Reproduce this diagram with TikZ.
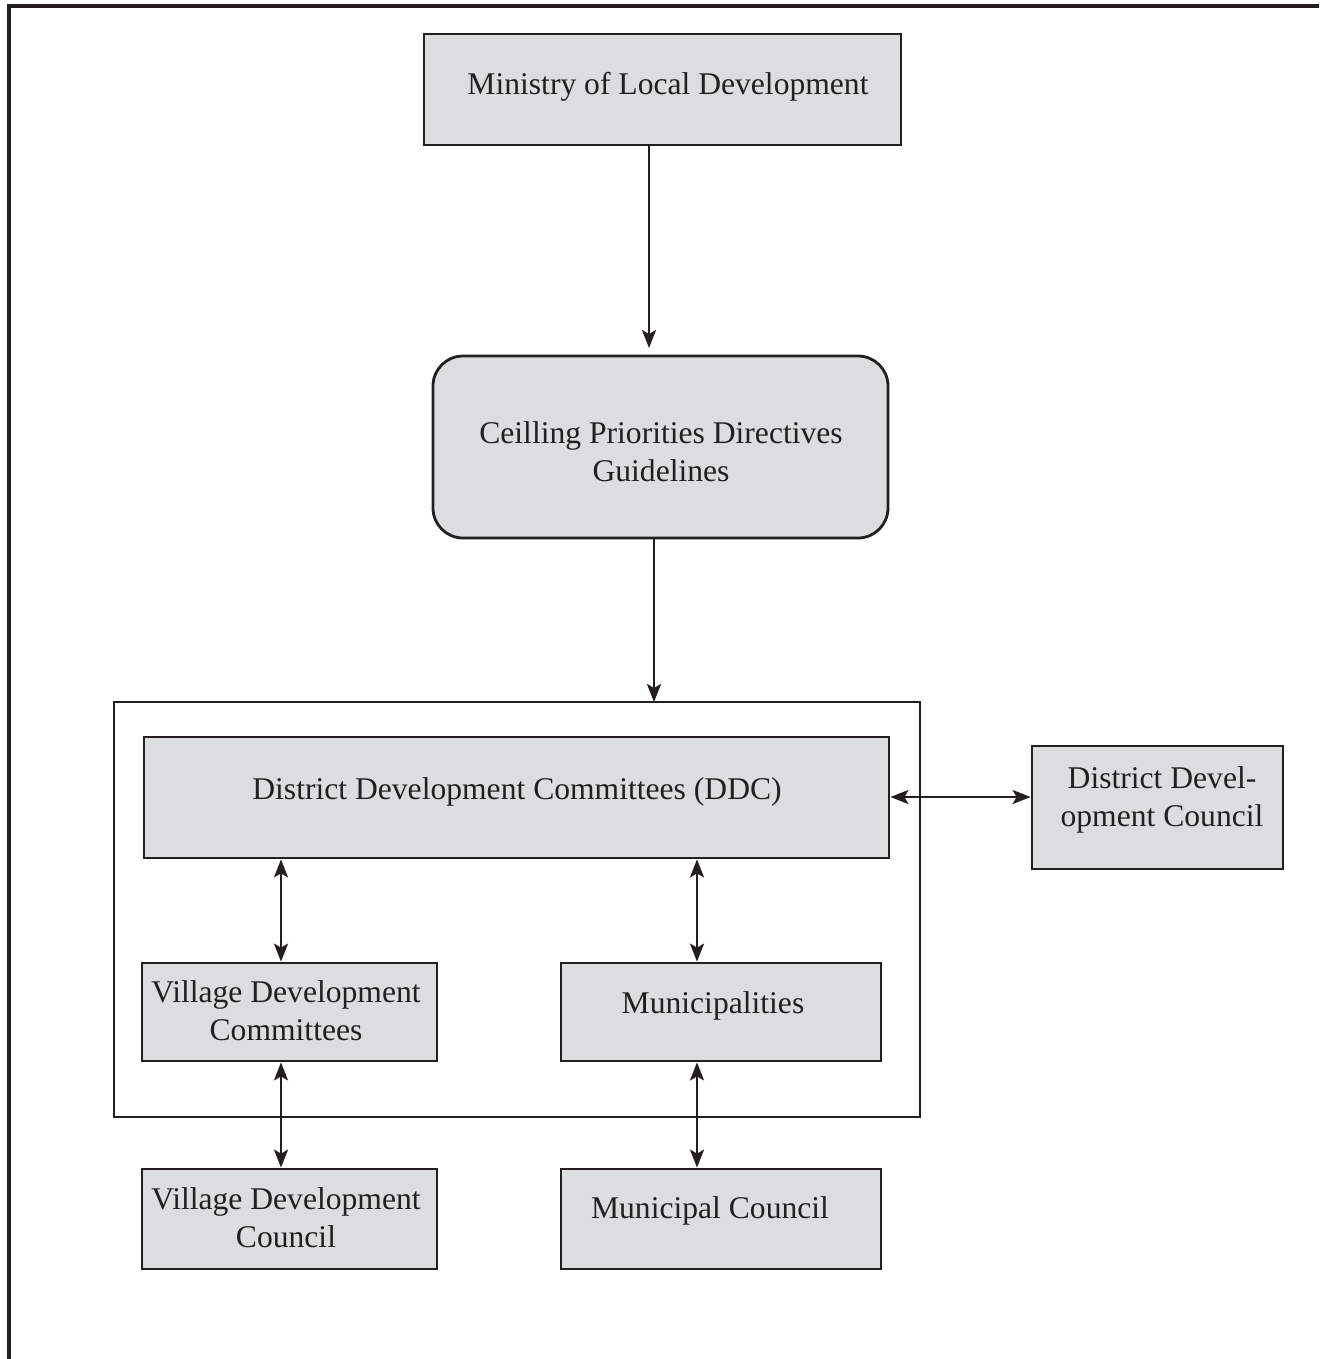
\documentclass[tikz,border=0pt]{standalone}
\usepackage{fontspec}
\setmainfont{Liberation Serif}
\usetikzlibrary{arrows.meta}
\definecolor{boxgray}{HTML}{DCDDDF}
\definecolor{ink}{HTML}{231F20}
\begin{document}
\begin{tikzpicture}[x=0.5pt,y=-0.5pt,
  box/.style={draw=ink,line width=1.4pt,fill=boxgray,inner sep=0pt},
  txt/.style={text=ink,align=center,inner sep=0pt,font=\fontsize{15.8}{19}\selectfont},
  conn/.style={draw=ink,line width=1.2pt,-{Stealth[length=9pt,width=7pt,inset=2pt]}},
  bconn/.style={draw=ink,line width=1.2pt,{Stealth[length=9pt,width=7pt,inset=2pt]}-{Stealth[length=9pt,width=7pt,inset=2pt]}}]
\useasboundingbox (0,0) rectangle (1319,1359);
% outer page frame (top and left only)
\draw[ink,line width=1.8pt] (9,1359) -- (9,6) -- (1319,6);
% boxes
\node[box,minimum width=238.5pt,minimum height=55.5pt] (mld) at (662.5,89.5) {};
\node[box,rounded corners=15pt,minimum width=227.5pt,minimum height=91pt] (cpd) at (660.5,447) {};
\draw[ink,line width=1.4pt] (114,702) rectangle (920,1117);
\coordinate (frametop) at (654,702);
\node[box,minimum width=372.5pt,minimum height=60.5pt] (ddc) at (516.5,797.5) {};
\node[box,minimum width=125.5pt,minimum height=61.5pt] (dcouncil) at (1157.5,807.5) {};
\node[box,minimum width=147.5pt,minimum height=49pt] (vdc) at (289.5,1012) {};
\node[box,minimum width=160pt,minimum height=49pt] (muni) at (721,1012) {};
\node[box,minimum width=147.5pt,minimum height=50pt] (vdcouncil) at (289.5,1219) {};
\node[box,minimum width=160pt,minimum height=50pt] (mcouncil) at (721,1219) {};
% texts
\node[txt] (tmld) at (668,87) {Ministry of Local Development};
\node[txt] (tcpd) at (661,452) {Ceilling Priorities Directives\\Guidelines};
\node[txt] (tddc) at (517,792) {District Development Committees (DDC)};
\node[txt] (tdcouncil) at (1162,800) {District Devel-\\opment Council};
\node[txt] (tvdc) at (286,1011) {Village Development\\Committees};
\node[txt] (tmuni) at (713,1006) {Municipalities};
\node[txt] (tvdcouncil) at (286,1218) {Village Development\\Council};
\node[txt] (tmcouncil) at (710,1211) {Municipal Council};
% connectors
\draw[conn] (mld.south -| 649,0) -- (649,348);
\draw[conn] (cpd.south -| 654,0) -- (frametop);
\draw[bconn] (ddc.east |- 0,797) -- (dcouncil.west |- 0,797);
\draw[bconn] (ddc.south -| 281,0) -- (vdc.north -| 281,0);
\draw[bconn] (ddc.south -| 697,0) -- (muni.north -| 697,0);
\draw[bconn] (vdc.south -| 281,0) -- (vdcouncil.north -| 281,0);
\draw[bconn] (muni.south -| 697,0) -- (mcouncil.north -| 697,0);
\end{tikzpicture}
\end{document}
